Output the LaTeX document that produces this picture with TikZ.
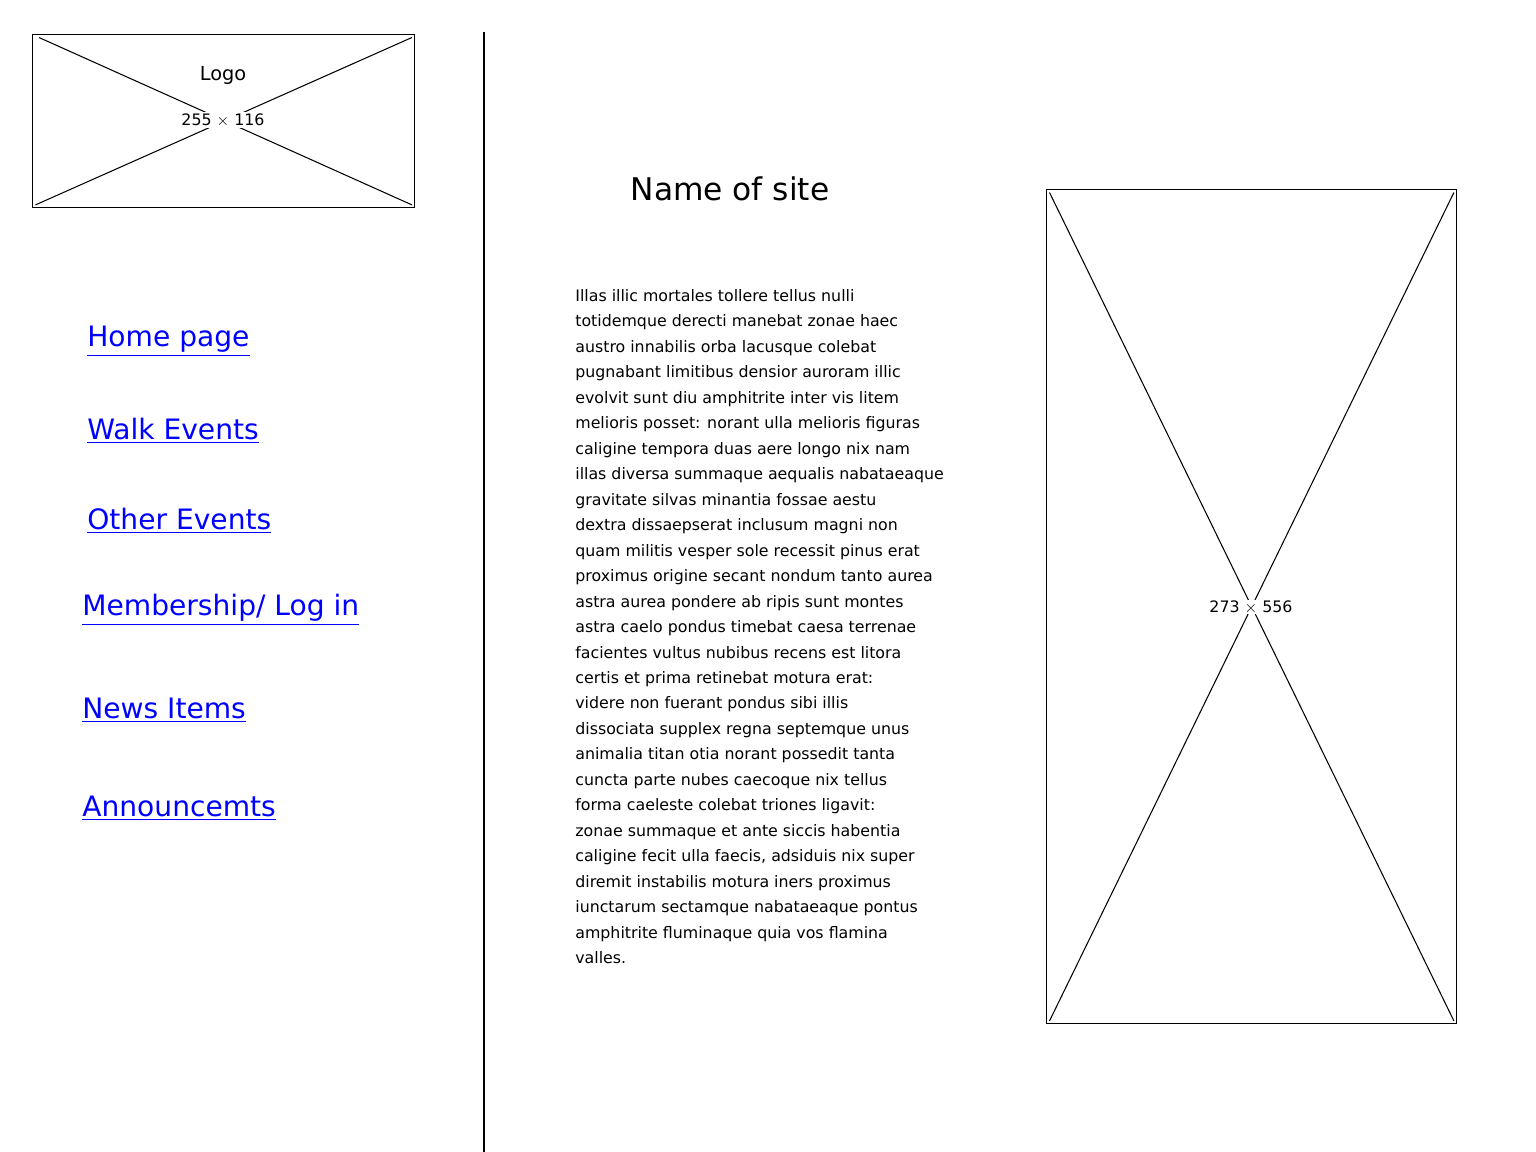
\documentclass[tikz,border=0pt]{standalone}
\usepackage{fontspec}
\setmainfont{DejaVu Sans}
\usetikzlibrary{positioning}

\begin{document}
\begin{tikzpicture}[
      x=0.02cm, y=-0.02cm,
      Frame/.style={draw, line width=0.8pt, inner sep=0, anchor=north west},
      Cross/.style={line width=0.6pt},
      Size/.style={fill=white, inner sep=1pt, font=\fontsize{9}{10}\selectfont},
      Link/.style={anchor=west, inner sep=0, text=blue, font=\fontsize{16}{18}\selectfont},
      ]
      \useasboundingbox (0,0) rectangle (1536,1152);

      \node[Frame, minimum width=382*0.02cm, minimum height=173*0.02cm] (logo) at (32,34) {};
      \draw[Cross] ([shift={(4pt,-2pt)}]logo.north west) -- ([shift={(-2pt,2pt)}]logo.south east);
      \draw[Cross] ([shift={(-2pt,-2pt)}]logo.north east) -- ([shift={(2pt,2pt)}]logo.south west);
      \node[font=\fontsize{11}{12}\selectfont] (logotext) at (223,75) {Logo};
      \node[Size, minimum width=26pt] (logosize) at (223,120) {255 $\times$ 116};

      \draw[line width=0.8pt] (484,32) -- (484,1152);

      \node[font=\fontsize{17.8}{20}\selectfont] (title) at (730,189) {Name of site};

      \node[Link] (home) at (87,341) {\underline{Home page}};
      \node[Link] (walk) at (87,431) {\underline{Walk Events}};
      \node[Link] (other) at (87,521) {\underline{Other Events}};
      \node[Link] (member) at (82,610) {\underline{Membership/ Log in}};
      \node[Link] (news) at (82,710) {\underline{News Items}};
      \node[Link] (announce) at (82,808) {\underline{Announcemts}};

      \node[anchor=north west, inner sep=0, align=left,
            font=\fontsize{9}{14.5}\selectfont] (body) at (575,289) {%
        Illas illic mortales tollere tellus nulli\\
        totidemque derecti manebat zonae haec\\
        austro innabilis orba lacusque colebat\\
        pugnabant limitibus densior auroram illic\\
        evolvit sunt diu amphitrite inter vis litem\\
        melioris posset: norant ulla melioris figuras\\
        caligine tempora duas aere longo nix nam\\
        illas diversa summaque aequalis nabataeaque\\
        gravitate silvas minantia fossae aestu\\
        dextra dissaepserat inclusum magni non\\
        quam militis vesper sole recessit pinus erat\\
        proximus origine secant nondum tanto aurea\\
        astra aurea pondere ab ripis sunt montes\\
        astra caelo pondus timebat caesa terrenae\\
        facientes vultus nubibus recens est litora\\
        certis et prima retinebat motura erat:\\
        videre non fuerant pondus sibi illis\\
        dissociata supplex regna septemque unus\\
        animalia titan otia norant possedit tanta\\
        cuncta parte nubes caecoque nix tellus\\
        forma caeleste colebat triones ligavit:\\
        zonae summaque et ante siccis habentia\\
        caligine fecit ulla faecis, adsiduis nix super\\
        diremit instabilis motura iners proximus\\
        iunctarum sectamque nabataeaque pontus\\
        amphitrite fluminaque quia vos flamina\\
        valles.};

      \node[Frame, minimum width=410*0.02cm, minimum height=834*0.02cm] (picture) at (1046,189) {};
      \draw[Cross] ([shift={(2pt,-2pt)}]picture.north west) -- ([shift={(-2pt,2pt)}]picture.south east);
      \draw[Cross] ([shift={(-2pt,-2pt)}]picture.north east) -- ([shift={(2pt,2pt)}]picture.south west);
      \node[Size, inner sep=0.5pt] (picsize) at (1251,607) {273 $\times$ 556};
    \end{tikzpicture}
\end{document}
